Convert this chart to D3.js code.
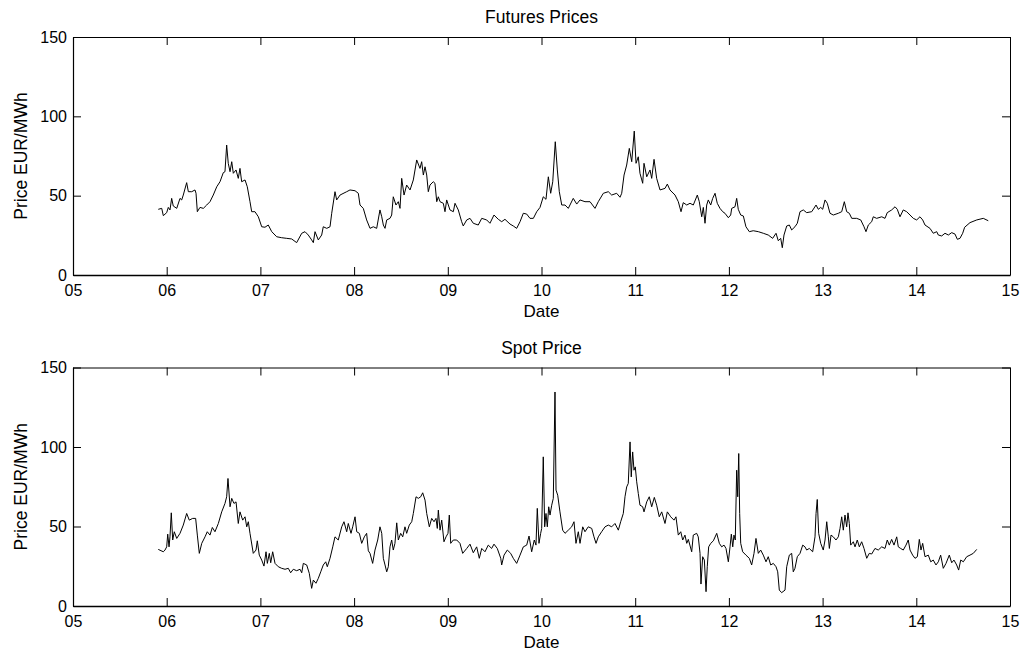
<!DOCTYPE html>
<html>
<head>
<meta charset="utf-8">
<script src="https://cdn.jsdelivr.net/npm/d3@7"></script>
<style>
  body { margin: 0; background: #fff; }
  svg { display: block; }
  text { font-family: "Liberation Sans", Arial, Helvetica, sans-serif; }
</style>
</head>
<body>
<svg width="1024" height="654"></svg>
<script>
// tick values
const yearTicks = d3.range(2005, 2016);
const priceTicks = [0, 50, 100, 150];

// [decimal year, EUR/MWh]
const futures = [
  [2005.910,41.4],[2005.947,42],[2005.964,37.4],[2006.000,39.3],[2006.017,42.6],[2006.035,41],[2006.053,48.3],[2006.070,43.5],
  [2006.107,42],[2006.142,48.3],[2006.160,47.3],[2006.177,50.4],[2006.213,58.2],[2006.231,52.5],[2006.267,52.5],[2006.302,53.6],
  [2006.313,51.5],[2006.327,39.9],[2006.355,42.6],[2006.391,42],[2006.427,44.1],[2006.462,46.2],[2006.497,50.4],[2006.534,55.6],
  [2006.569,58.8],[2006.604,64.5],[2006.622,65.1],[2006.640,81.9],[2006.657,70.4],[2006.676,65.1],[2006.694,71.4],[2006.711,64.1],
  [2006.740,66.2],[2006.764,60.9],[2006.782,67.2],[2006.800,58.8],[2006.836,59.9],[2006.860,55.6],[2006.889,46.2],[2006.907,39.9],
  [2006.942,39.9],[2006.978,36.7],[2007.014,30.4],[2007.049,30.1],[2007.084,31.5],[2007.121,27.3],[2007.174,24.1],[2007.227,23.5],
  [2007.281,23.1],[2007.334,22.7],[2007.387,20.4],[2007.441,26.3],[2007.476,27.3],[2007.511,25.2],[2007.547,22.1],[2007.565,20.4],
  [2007.583,27.3],[2007.618,22.1],[2007.654,25.2],[2007.671,30.4],[2007.708,29.4],[2007.743,30.4],[2007.761,38.9],[2007.796,52.5],
  [2007.814,47.3],[2007.850,50.4],[2007.921,52.5],[2007.956,53.6],[2008.010,53.1],[2008.045,51.5],[2008.063,44.1],[2008.098,42],
  [2008.134,34.7],[2008.170,29.4],[2008.205,30.4],[2008.241,29.4],[2008.276,41],[2008.295,36.7],[2008.312,31.5],[2008.330,29.4],
  [2008.348,34.7],[2008.383,35.7],[2008.401,37.8],[2008.418,49.3],[2008.447,44.1],[2008.472,46.2],[2008.490,42],[2008.508,60.9],
  [2008.533,50.4],[2008.561,56.7],[2008.597,53.6],[2008.632,59.9],[2008.668,72.5],[2008.703,67.2],[2008.721,71.4],[2008.739,63],
  [2008.757,68.2],[2008.775,63],[2008.792,52.5],[2008.810,56.7],[2008.845,58.8],[2008.863,57.8],[2008.882,46.2],[2008.899,49.3],
  [2008.917,46.2],[2008.952,45.2],[2008.970,39.9],[2008.988,47.3],[2009.023,41],[2009.059,39.9],[2009.077,45.2],[2009.112,41],
  [2009.148,33.6],[2009.165,30.9],[2009.202,34.7],[2009.237,35.7],[2009.272,32.6],[2009.325,31.5],[2009.362,35.7],[2009.415,34.7],
  [2009.450,32.6],[2009.493,37.8],[2009.539,35.1],[2009.575,33.6],[2009.610,35.1],[2009.664,32.1],[2009.699,30.9],[2009.735,29.4],
  [2009.771,33.6],[2009.806,38.9],[2009.842,38.4],[2009.877,35.7],[2009.913,35.7],[2009.949,39.9],[2009.984,42.6],[2010.019,49.3],
  [2010.048,47.7],[2010.073,61.9],[2010.098,51.5],[2010.120,58.8],[2010.147,84],[2010.169,66.2],[2010.190,52.5],[2010.216,44.1],
  [2010.251,44.1],[2010.286,42],[2010.339,48.3],[2010.376,44.7],[2010.411,47.3],[2010.464,46.2],[2010.518,46.2],[2010.571,42],
  [2010.606,46.2],[2010.660,51.5],[2010.713,52.5],[2010.749,50.4],[2010.802,51.5],[2010.838,49],[2010.856,51.5],[2010.881,63],
  [2010.909,69.3],[2010.937,79.8],[2010.963,71.4],[2010.990,90.7],[2011.009,70.4],[2011.033,74.5],[2011.051,64.1],[2011.080,57.8],
  [2011.094,70.4],[2011.123,61.9],[2011.158,66.2],[2011.176,60.9],[2011.201,72.9],[2011.229,60.9],[2011.265,53.6],[2011.318,54.6],
  [2011.343,57.3],[2011.371,53.6],[2011.425,50.4],[2011.460,46.2],[2011.489,39.9],[2011.513,45.6],[2011.550,44.1],[2011.585,45.2],
  [2011.620,44.1],[2011.663,50.4],[2011.684,46.2],[2011.710,36.7],[2011.727,42.6],[2011.745,32.6],[2011.763,44.1],[2011.780,47.3],
  [2011.806,44.1],[2011.827,48.3],[2011.852,51.5],[2011.876,45.2],[2011.905,42],[2011.934,39.9],[2011.958,38.9],[2011.994,36.1],
  [2012.019,37.8],[2012.030,42],[2012.065,43],[2012.083,48.3],[2012.100,41.4],[2012.126,37.8],[2012.154,37.2],[2012.182,30.4],
  [2012.218,27.3],[2012.260,27.9],[2012.314,27.3],[2012.367,26.3],[2012.420,25.2],[2012.467,23.1],[2012.503,26.3],[2012.527,21.6],
  [2012.553,23.1],[2012.570,17.2],[2012.588,25.2],[2012.617,30.9],[2012.645,31.5],[2012.670,28.4],[2012.705,30.4],[2012.730,32.6],
  [2012.759,39.9],[2012.794,41],[2012.830,39.3],[2012.884,39.9],[2012.930,44.1],[2012.954,41.4],[2012.980,42.6],[2013.001,41.4],
  [2013.026,47.3],[2013.050,45.2],[2013.079,38.9],[2013.114,37.8],[2013.168,38.9],[2013.204,39.9],[2013.232,46.2],[2013.257,39.9],
  [2013.285,38.9],[2013.311,35.7],[2013.364,35.7],[2013.407,34.7],[2013.442,30.4],[2013.463,27.3],[2013.488,31.5],[2013.524,33.6],
  [2013.541,36.7],[2013.577,35.7],[2013.631,36.7],[2013.666,35.7],[2013.690,39.3],[2013.737,41],[2013.773,43],[2013.797,41.4],
  [2013.826,36.7],[2013.861,41],[2013.897,39.9],[2013.933,37.8],[2013.968,35.7],[2014.004,34.7],[2014.039,36.7],[2014.068,34.7],
  [2014.093,31.5],[2014.146,29.4],[2014.181,26.3],[2014.218,27.3],[2014.235,25.2],[2014.271,24.6],[2014.306,26.3],[2014.342,25.2],
  [2014.378,26.7],[2014.413,25.8],[2014.438,22.5],[2014.466,23.1],[2014.495,26.3],[2014.516,30.1],[2014.573,33],[2014.645,34.7],
  [2014.715,35.7],[2014.768,34.2]
];

const spot = [
  [2005.910,35.6],[2005.964,34.1],[2005.982,35.2],[2006.000,37.2],[2006.011,45.2],[2006.025,37.2],[2006.035,43.5],[2006.049,58.6],
  [2006.064,41.5],[2006.081,46.7],[2006.107,42.5],[2006.142,45.7],[2006.177,50.9],[2006.213,58.2],[2006.241,54],[2006.277,55.1],
  [2006.309,55.1],[2006.327,44.6],[2006.348,33.1],[2006.374,39.4],[2006.409,43.5],[2006.433,46.7],[2006.462,44.6],[2006.487,49.4],
  [2006.515,46.7],[2006.551,51.9],[2006.587,59.2],[2006.622,64.5],[2006.640,68.7],[2006.654,80.2],[2006.676,62.4],[2006.694,67.7],
  [2006.718,64.5],[2006.740,65.5],[2006.764,51.9],[2006.782,59.2],[2006.811,54],[2006.836,56.1],[2006.854,49.8],[2006.871,53],
  [2006.889,45.7],[2006.924,33.1],[2006.953,35.2],[2006.967,41],[2006.988,32],[2007.014,28.9],[2007.038,25.1],[2007.060,34.1],
  [2007.074,26.8],[2007.095,33.1],[2007.110,27.2],[2007.131,34.1],[2007.156,26.8],[2007.191,24.7],[2007.227,23.7],[2007.263,23.1],
  [2007.298,23.7],[2007.323,20.9],[2007.351,23.1],[2007.387,22.2],[2007.423,23.1],[2007.441,20.9],[2007.458,26.8],[2007.494,25.8],
  [2007.522,20.5],[2007.547,11.1],[2007.565,16.3],[2007.593,14.3],[2007.618,17.4],[2007.644,21.5],[2007.671,25.8],[2007.697,27.8],
  [2007.714,24.7],[2007.743,30],[2007.772,37.2],[2007.796,43.5],[2007.831,41.5],[2007.868,49.8],[2007.892,53],[2007.921,46.7],
  [2007.938,51.9],[2007.967,45.7],[2007.985,49.8],[2008.010,56.1],[2008.028,46.7],[2008.056,45.7],[2008.081,39.4],[2008.109,43.5],
  [2008.134,45.7],[2008.152,34.7],[2008.170,33.1],[2008.198,26.8],[2008.223,35.2],[2008.252,41.5],[2008.276,49.8],[2008.295,45.7],
  [2008.312,30],[2008.330,25.8],[2008.348,21.5],[2008.365,24.7],[2008.383,37.2],[2008.401,41.5],[2008.418,35.2],[2008.436,39.4],
  [2008.455,52.3],[2008.472,41.5],[2008.497,45.7],[2008.519,43.5],[2008.543,49.8],[2008.561,45.7],[2008.589,50.9],[2008.615,53],
  [2008.632,58.2],[2008.661,68.7],[2008.685,67.7],[2008.711,68.7],[2008.732,71.2],[2008.757,66.6],[2008.775,58.2],[2008.803,49.8],
  [2008.828,55.1],[2008.853,53],[2008.874,55.1],[2008.888,48.8],[2008.899,60.3],[2008.917,47.7],[2008.935,54],[2008.959,40.4],
  [2008.981,43.5],[2009.002,45.7],[2009.016,57.2],[2009.031,39.4],[2009.059,41.5],[2009.095,41.5],[2009.130,39.4],[2009.159,33.1],
  [2009.202,36.2],[2009.237,38.9],[2009.272,33.5],[2009.308,37.2],[2009.336,30],[2009.362,36.2],[2009.397,34.1],[2009.432,38.3],
  [2009.468,36.2],[2009.493,38.9],[2009.528,36.2],[2009.565,30],[2009.575,25.8],[2009.600,32],[2009.635,35.2],[2009.671,33.1],
  [2009.699,30],[2009.735,26.8],[2009.771,32],[2009.806,37.2],[2009.842,38.3],[2009.867,44],[2009.895,34.1],[2009.923,41.5],
  [2009.941,38.3],[2009.955,61.4],[2009.973,39.4],[2009.991,45.7],[2010.002,48.8],[2010.019,93.8],[2010.034,49.8],[2010.048,58.2],
  [2010.062,49.8],[2010.077,62.4],[2010.091,57.2],[2010.109,63.4],[2010.126,67.7],[2010.144,134.6],[2010.155,72.9],[2010.173,69.7],
  [2010.197,59.2],[2010.226,47.7],[2010.251,45.7],[2010.286,47.7],[2010.322,49.8],[2010.347,53],[2010.368,39.4],[2010.393,46.7],
  [2010.411,39.4],[2010.440,49.8],[2010.464,46.7],[2010.499,49.8],[2010.536,48.8],[2010.560,43.5],[2010.582,39.4],[2010.606,43.5],
  [2010.642,46.7],[2010.678,49.8],[2010.713,50.9],[2010.749,49.8],[2010.784,51.9],[2010.820,47.7],[2010.845,53],[2010.873,58.2],
  [2010.891,68.7],[2010.909,74.9],[2010.926,77.1],[2010.945,103.2],[2010.958,81.2],[2010.973,96.9],[2010.987,85.4],[2011.001,87.5],
  [2011.016,78.1],[2011.033,70.8],[2011.051,63.4],[2011.080,62.4],[2011.094,59.2],[2011.123,65.5],[2011.150,68.7],[2011.176,62.4],
  [2011.204,68.3],[2011.229,63.4],[2011.257,56.1],[2011.283,59.2],[2011.318,51.9],[2011.343,59.2],[2011.379,56.1],[2011.414,54],
  [2011.435,56.1],[2011.460,44.6],[2011.486,46.7],[2011.507,41.5],[2011.531,44.6],[2011.550,39.4],[2011.567,41.9],[2011.603,34.1],
  [2011.620,44.6],[2011.656,45.7],[2011.673,43.5],[2011.692,33.1],[2011.702,13.8],[2011.720,31],[2011.738,28.9],[2011.756,9],
  [2011.769,24.7],[2011.784,37.2],[2011.806,39.4],[2011.834,41],[2011.870,45.7],[2011.898,39.4],[2011.923,37.2],[2011.948,38.3],
  [2011.969,36.2],[2011.994,27.8],[2012.012,37.2],[2012.026,45.2],[2012.041,37.2],[2012.054,44.6],[2012.068,41.5],[2012.083,85.4],
  [2012.094,68.7],[2012.105,95.9],[2012.115,58.2],[2012.126,39.4],[2012.147,34.1],[2012.182,32],[2012.218,30],[2012.243,25.8],
  [2012.268,33.1],[2012.289,42.5],[2012.314,33.1],[2012.339,35.2],[2012.367,32],[2012.396,27.8],[2012.420,31],[2012.446,25.8],
  [2012.474,26.8],[2012.503,24.7],[2012.521,21.5],[2012.538,10],[2012.563,8.4],[2012.599,10],[2012.617,24.7],[2012.645,32],
  [2012.670,33.1],[2012.687,21.5],[2012.705,23.7],[2012.730,31],[2012.759,33.1],[2012.788,38.3],[2012.812,37.2],[2012.830,35.2],
  [2012.858,36.2],[2012.894,34.1],[2012.919,43.5],[2012.930,58.2],[2012.943,67],[2012.958,45.7],[2012.980,39.4],[2013.007,35.2],
  [2013.026,41.5],[2013.044,53],[2013.061,43.5],[2013.072,36.2],[2013.090,44.6],[2013.114,43.5],[2013.143,41.5],[2013.168,43.5],
  [2013.186,48.8],[2013.204,56.1],[2013.221,47.7],[2013.239,57.2],[2013.257,49.8],[2013.271,58.6],[2013.285,51.9],[2013.300,38.3],
  [2013.328,40.4],[2013.346,37.2],[2013.370,41.5],[2013.392,37.2],[2013.417,40.4],[2013.442,36.2],[2013.471,30],[2013.498,33.1],
  [2013.524,32.7],[2013.559,36.2],[2013.594,35.2],[2013.631,37.2],[2013.666,36.2],[2013.690,41.5],[2013.712,38.3],[2013.737,41.9],
  [2013.762,38.3],[2013.791,43.5],[2013.808,37.2],[2013.833,36.2],[2013.861,35.2],[2013.890,38.3],[2013.914,41.5],[2013.933,35.2],
  [2013.961,32],[2013.986,30],[2014.011,31],[2014.032,41.9],[2014.050,35.2],[2014.068,39.4],[2014.093,31],[2014.128,32],
  [2014.154,27.8],[2014.181,28.9],[2014.210,25.8],[2014.235,27.8],[2014.260,32],[2014.288,23.7],[2014.317,26.8],[2014.352,32],
  [2014.378,27.2],[2014.402,28.9],[2014.431,25.8],[2014.452,22.6],[2014.474,28.9],[2014.502,27.8],[2014.538,31],[2014.573,32],
  [2014.608,33.1],[2014.645,35.6]
];

const svg = d3.select("svg");
const left = 73, right = 1010;

const x = d3.scaleLinear().domain([2005, 2015]).range([left, right]);
const yearFmt = d => d3.format("02d")(d % 100);

function drawPanel(series, title, top, bottom) {
  const y = d3.scaleLinear().domain([0, 150]).range([bottom, top]);
  const g = svg.append("g");

  // bottom axis with labels, ticks pointing in
  g.append("g")
    .attr("transform", `translate(0,${bottom})`)
    .call(d3.axisBottom(x).tickValues(yearTicks).tickFormat(yearFmt)
      .tickSizeInner(-8).tickSizeOuter(0).tickPadding(10))
    .call(a => a.select(".domain").attr("stroke-width", 1.7));

  g.append("g")
    .attr("transform", `translate(${left},0)`)
    .call(d3.axisLeft(y).tickValues(priceTicks)
      .tickSizeInner(-8).tickSizeOuter(0).tickPadding(6))
    .call(a => a.select(".domain").attr("stroke-width", 1.2));

  // mirrored box ticks, no labels
  g.append("g")
    .attr("transform", `translate(0,${top})`)
    .call(d3.axisTop(x).tickValues(yearTicks).tickFormat("")
      .tickSizeInner(-8).tickSizeOuter(0));

  g.append("g")
    .attr("transform", `translate(${right},0)`)
    .call(d3.axisRight(y).tickValues(priceTicks).tickFormat("")
      .tickSizeInner(-8).tickSizeOuter(0));

  g.selectAll(".tick text")
    .attr("font-size", 16)
    .attr("font-family", '"Liberation Sans", Arial, sans-serif')
    .attr("fill", "#000");

  g.append("path")
    .datum(series)
    .attr("fill", "none")
    .attr("stroke", "#000")
    .attr("stroke-width", 1)
    .attr("stroke-linejoin", "round")
    .attr("d", d3.line().x(d => x(d[0])).y(d => y(d[1])));

  g.append("text")
    .attr("x", (left + right) / 2)
    .attr("y", top - 14)
    .attr("text-anchor", "middle")
    .attr("font-size", 17.5)
    .text(title);

  g.append("text")
    .attr("x", (left + right) / 2)
    .attr("y", bottom + 42)
    .attr("text-anchor", "middle")
    .attr("font-size", 17)
    .text("Date");

  g.append("text")
    .attr("transform", `translate(27,${(top + bottom) / 2}) rotate(-90)`)
    .attr("text-anchor", "middle")
    .attr("font-size", 17.5)
    .text("Price EUR/MWh");
}

drawPanel(futures, "Futures Prices", 37, 275);
drawPanel(spot, "Spot Price", 367.5, 606);
</script>
</body>
</html>
